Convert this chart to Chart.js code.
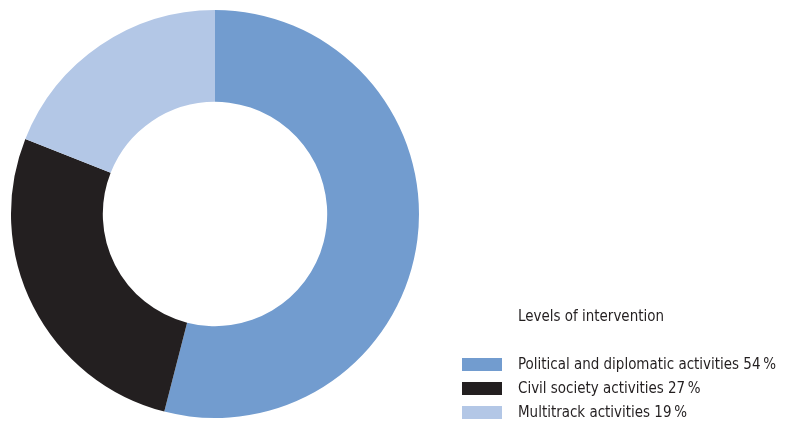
<!DOCTYPE html>
<html>
<head>
<meta charset="utf-8">
<script src="https://cdn.jsdelivr.net/npm/chart.js@4"></script>
<style>
  html, body { margin: 0; padding: 0; background: #fff; }
  #wrap { width: 787px; height: 421px; position: relative; }
</style>
</head>
<body>
<div id="wrap"><canvas id="c" width="787" height="421"></canvas></div>
<script>
const categories = ["Political and diplomatic activities", "Civil society activities", "Multitrack activities"];
const values = [54, 27, 19];
const colors = ["#729ccf", "#231f20", "#b3c7e6"];
const legendTitle = "Levels of intervention";

const FONT = '"Liberation Sans Narrow", "DejaVu Sans Condensed", "Roboto", sans-serif';
const SX = 0.935;

const legendPlugin = {
  id: 'customLegend',
  afterDraw(chart) {
    const ctx = chart.ctx;
    const ds = chart.data.datasets[0];
    const text = (s, x, y) => {
      ctx.save();
      ctx.translate(x, y);
      ctx.scale(SX, 1);
      ctx.fillText(s, 0, 0);
      ctx.restore();
    };
    ctx.save();
    ctx.font = '16px ' + FONT;
    ctx.fillStyle = '#231f20';
    ctx.textBaseline = 'middle';
    ctx.textAlign = 'left';
    text(legendTitle, 518, 317);
    chart.data.labels.forEach((lab, i) => {
      const y = 365 + i * 24;
      ctx.fillStyle = ds.backgroundColor[i];
      ctx.fillRect(462, y - 7, 40, 13);
      ctx.fillStyle = '#231f20';
      text(lab + ' ' + ds.data[i] + '\u2009%', 518, y);
    });
    ctx.restore();
  }
};

new Chart(document.getElementById('c'), {
  type: 'doughnut',
  data: {
    labels: categories,
    datasets: [{
      data: values,
      backgroundColor: colors,
      borderWidth: 0
    }]
  },
  options: {
    responsive: false,
    animation: false,
    cutout: '55%',
    layout: { padding: { left: 10, top: 10, bottom: 3, right: 367 } },
    plugins: {
      legend: { display: false },
      tooltip: { enabled: false }
    }
  },
  plugins: [legendPlugin]
});
</script>
</body>
</html>
